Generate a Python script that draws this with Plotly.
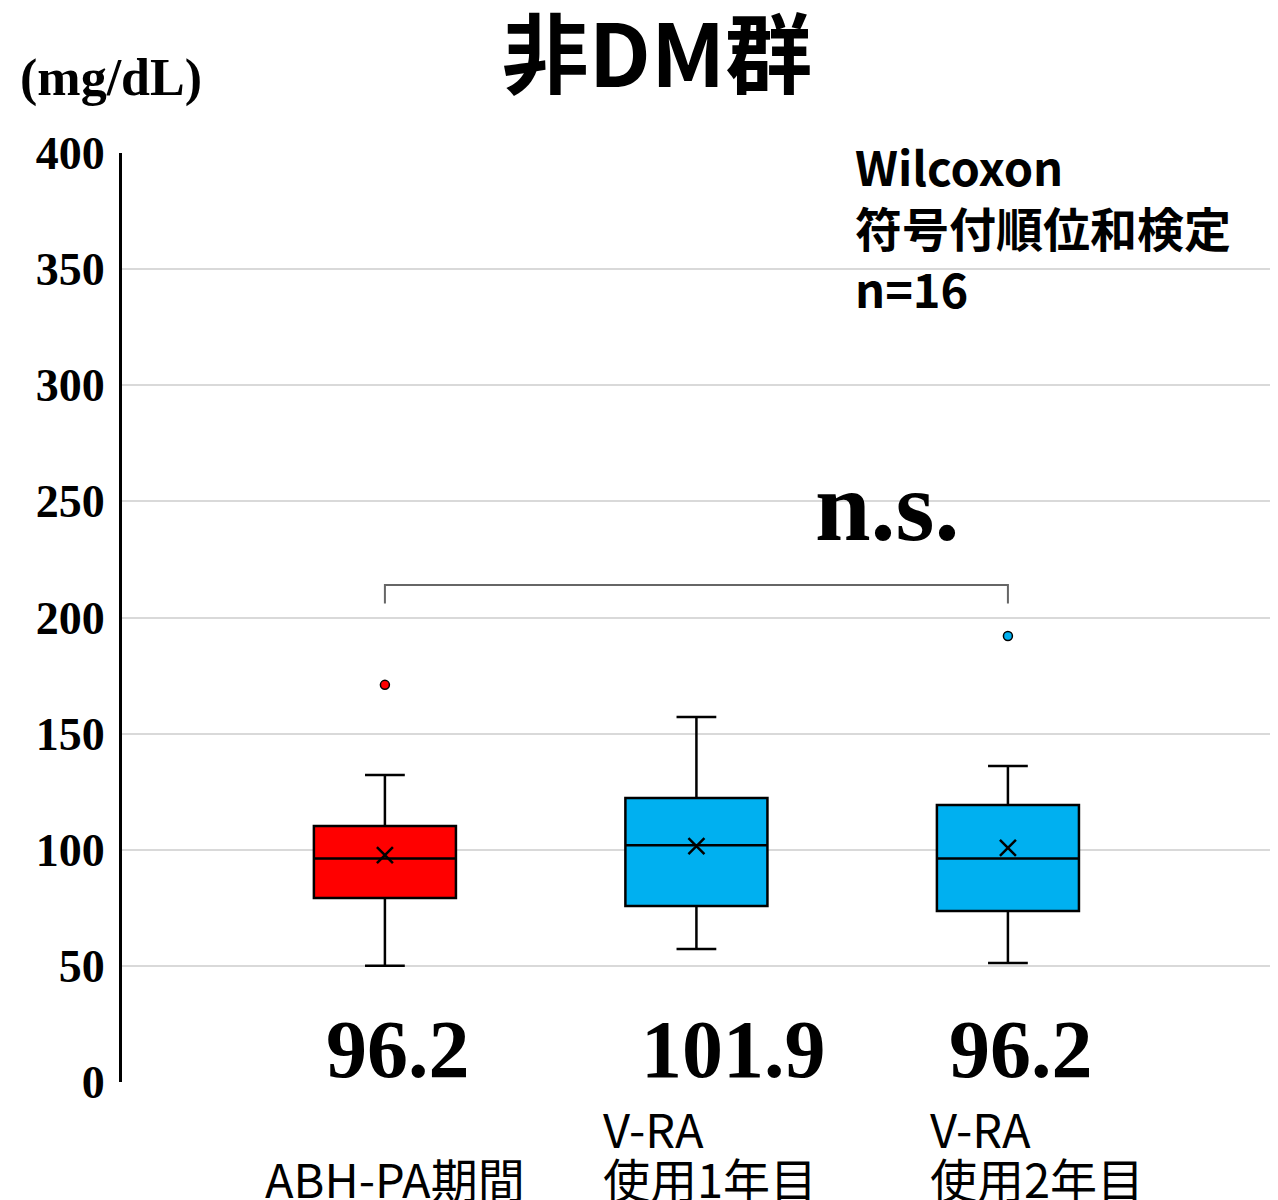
import plotly.graph_objects as go

# ---- data ----
categories = ["ABH-PA期間", "V-RA<br>使用1年目", "V-RA<br>使用2年目"]
lower_fence = [50.0, 57.3, 51.2]
q1 = [79.2, 75.8, 73.6]
median = [96.2, 101.9, 96.2]
q3 = [110.2, 122.3, 119.3]
upper_fence = [132.2, 157.2, 136.1]
means = [97.7, 101.6, 100.8]
outliers = [[171.0], [], [192.0]]
median_labels = ["96.2", "101.9", "96.2"]
y_ticks = [0, 50, 100, 150, 200, 250, 300, 350, 400]
title_text = "非DM群"
unit_text = "(mg/dL)"
test_text = ["Wilcoxon", "符号付順位和検定", "n=16"]
sig_text = "n.s."
bracket_y = 214
bracket_drop = 8

# ---- style ----
colors = ["#FF0000", "#00B0F0", "#00B0F0"]
serif = "Liberation Serif"
sans = "Noto Sans CJK JP"
OFF = 8  # default page body margin
W, H = 1278 - OFF, 1200 - OFF
ml, mt = 122 - OFF, 153 - OFF
pw, ph = 1156, 929
mr, mb = W - ml - pw, H - mt - ph


def px_x(sx):  # screen x -> paper x
    return (sx - OFF - ml) / pw


def px_y(sy):  # screen y -> paper y
    return (mt + ph - (sy - OFF)) / ph


fig = go.Figure()
xs = list(range(len(categories)))
for i in xs:
    fig.add_trace(go.Box(
        x=[i], q1=[q1[i]], median=[median[i]], q3=[q3[i]],
        lowerfence=[lower_fence[i]], upperfence=[upper_fence[i]],
        width=0.456, whiskerwidth=0.28,
        fillcolor=colors[i], line=dict(color="black", width=2.5),
        boxpoints=False, showlegend=False, hoverinfo="skip"))
    if outliers[i]:
        fig.add_trace(go.Scatter(
            x=[i] * len(outliers[i]), y=outliers[i], mode="markers",
            marker=dict(size=9, color=colors[i], line=dict(color="black", width=1.5)),
            showlegend=False, hoverinfo="skip"))
fig.add_trace(go.Scatter(
    x=xs, y=means, mode="markers",
    marker=dict(symbol="x-thin", size=16, line=dict(color="black", width=2.5)),
    showlegend=False, hoverinfo="skip"))

# bracket
x0, x1 = xs[0], xs[-1]
fig.add_shape(type="path",
              path=f"M {x0} {bracket_y - bracket_drop} L {x0} {bracket_y} L {x1} {bracket_y} L {x1} {bracket_y - bracket_drop}",
              line=dict(color="#666666", width=2), xref="x", yref="y")

ann = []
# median labels
med_shift = [13, 37, 13]
for i in xs:
    ann.append(dict(x=i, y=14.2, xref="x", yref="y", text=median_labels[i], showarrow=False,
                    xshift=med_shift[i], yanchor="middle", xanchor="center",
                    font=dict(family=serif, size=82, color="black", weight="bold")))
# category labels (left aligned lines)
lab_left = [-122, -95, -80]
for i, lab in enumerate(categories):
    lines = lab.split("<br>")
    n = len(lines)
    for j, ln in enumerate(lines):
        from_bottom = n - 1 - j
        ann.append(dict(x=i, y=0, xref="x", yref="paper", text=ln, showarrow=False,
                        xanchor="left", yanchor="middle", xshift=lab_left[i],
                        yshift=-95 + 50 * from_bottom,
                        font=dict(family=sans, size=47, color="black")))
# unit
ann.append(dict(x=px_x(18), y=px_y(78), xref="paper", yref="paper",
                text=unit_text, showarrow=False, xanchor="left", yanchor="middle",
                font=dict(family=serif, size=52, color="black", weight="bold")))
# test text
ann.append(dict(x=px_x(853), y=px_y(226),
                xref="paper", yref="paper", text="<br>".join(test_text), showarrow=False,
                xanchor="left", yanchor="middle", align="left",
                font=dict(family=sans, size=47, color="black", weight="bold")))
# n.s.
ann.append(dict(x=px_x(887), y=px_y(506),
                xref="paper", yref="paper", text=sig_text, showarrow=False,
                xanchor="center", yanchor="middle",
                font=dict(family=serif, size=100, color="black", weight="bold")))

fig.update_layout(
    width=W, height=H,
    margin=dict(l=ml, r=mr, t=mt, b=mb, pad=0, autoexpand=False),
    paper_bgcolor="white", plot_bgcolor="white",
    title=dict(text=title_text, x=(657 - OFF) / W, xref="container", xanchor="center",
               y=1 - (57 - OFF) / H, yref="container", yanchor="middle",
               font=dict(family=sans, size=87, color="black", weight="bold")),
    annotations=ann,
    xaxis=dict(range=[-0.844, 2.867], showgrid=False, zeroline=False, automargin=False,
               showticklabels=False, showline=False, fixedrange=True),
    yaxis=dict(range=[0, 400], tickvals=y_ticks, ticktext=[str(v) for v in y_ticks],
               showgrid=True, gridcolor="#d9d9d9", gridwidth=2, automargin=False,
               zeroline=False, showline=True, linecolor="black", linewidth=3,
               ticks="outside", ticklen=5, tickcolor="rgba(0,0,0,0)",
               tickfont=dict(family=serif, size=46, color="black", weight="bold")),
)

fig.write_html("out.html")
